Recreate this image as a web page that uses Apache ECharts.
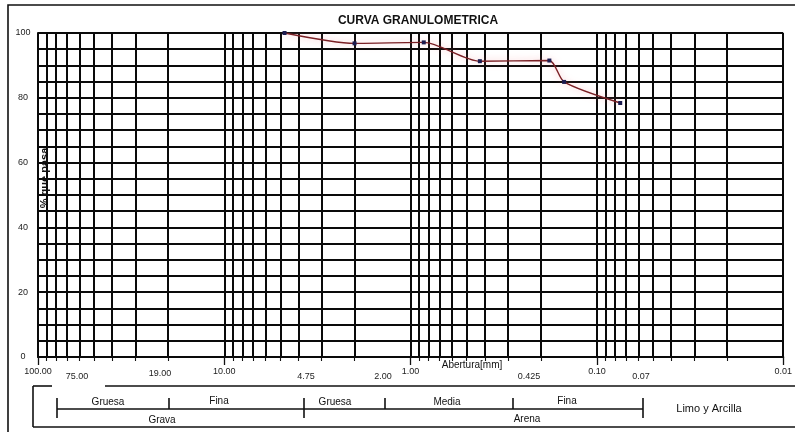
<!DOCTYPE html>
<html>
<head>
<meta charset="utf-8">
<script src="https://cdn.jsdelivr.net/npm/echarts@6/dist/echarts.min.js"></script>
<style>
  html, body { margin: 0; padding: 0; background: #fff; }
  #chart { width: 795px; height: 432px; }
</style>
</head>
<body>
<div id="chart"></div>
<script>
// Sieve openings (mm) and cumulative percent passing
const sieveSizes = [4.75, 2.00, 0.85, 0.425, 0.18, 0.15, 0.075];
const percentPassing = [100, 96.8, 97.1, 91.3, 91.5, 84.9, 78.4];

// Extra opening labels written along the size axis
const sieveLabels = ['75.00', '19.00', '4.75', '2.00', '0.425', '0.07'];

// Soil classification band under the chart
const fractionNames = ['Gruesa', 'Fina', 'Gruesa', 'Media', 'Fina'];
const groupNames = ['Grava', 'Arena'];
const fineName = 'Limo y Arcilla';

const titleText = 'CURVA GRANULOMETRICA';
const xAxisTitle = 'Abertura[mm]';
const yAxisTitle = '% que pasa';

// ---- layout (pixels) ----
const FONT = 'Liberation Sans, Arial, sans-serif';
const sieveLabelPos = [[77, 377], [160, 374], [306, 377], [383, 377], [529, 377], [641, 377]];
const fractionPos = [[108, 402], [219, 401], [335, 402], [447, 402], [567, 401]];
const groupPos = [[162, 420], [527, 419]];
const band = { left: 33, top: 386, bottom: 427, right: 800, gapFrom: 52, gapTo: 105, lineY: 409 };
const bandTicks = [[57, true], [169, false], [304, true], [385, false], [513, false], [643, true]];

const chart = echarts.init(document.getElementById('chart'), null, { renderer: 'canvas' });

const graphics = [];
// outer frame
graphics.push({ type: 'rect', shape: { x: 8, y: 5, width: 800, height: 440 },
  style: { fill: 'none', stroke: '#111', lineWidth: 1.6 }, silent: true, z: 0 });
// title
graphics.push({ type: 'text', style: { text: titleText, x: 418, y: 21, textAlign: 'center',
  textVerticalAlign: 'middle', font: 'bold 12px ' + FONT, fill: '#111' } });
// y axis title, rotated over the grid
graphics.push({ type: 'text', x: 45, y: 178, rotation: Math.PI / 2,
  style: { text: yAxisTitle, x: 0, y: 0, textAlign: 'center', textVerticalAlign: 'middle',
    font: 'bold 11px ' + FONT, fill: '#111' }, z: 10 });
// x axis title
graphics.push({ type: 'text', style: { text: xAxisTitle, x: 472, y: 365, textAlign: 'center',
  textVerticalAlign: 'middle', font: '10px ' + FONT, fill: '#111' }, z: 10 });
// opening labels
sieveLabels.forEach((t, i) => {
  graphics.push({ type: 'text', style: { text: t, x: sieveLabelPos[i][0], y: sieveLabelPos[i][1],
    textAlign: 'center', textVerticalAlign: 'middle', font: '9px ' + FONT, fill: '#222' } });
});
// classification band frame
const bandLines = [
  [band.left, band.top, band.left, band.bottom],
  [band.left, band.bottom, band.right, band.bottom],
  [band.left, band.top, band.gapFrom, band.top],
  [band.gapTo, band.top, band.right, band.top],
  [bandTicks[0][0], band.lineY, bandTicks[bandTicks.length - 1][0], band.lineY]
];
bandTicks.forEach(([x, tall]) => {
  bandLines.push([x, 398, x, tall ? 418 : band.lineY]);
});
bandLines.forEach(l => {
  graphics.push({ type: 'line', shape: { x1: l[0], y1: l[1], x2: l[2], y2: l[3] },
    style: { stroke: '#111', lineWidth: 1.6 }, silent: true });
});
fractionNames.forEach((t, i) => {
  graphics.push({ type: 'text', style: { text: t, x: fractionPos[i][0], y: fractionPos[i][1],
    textAlign: 'center', textVerticalAlign: 'middle', font: '10px ' + FONT, fill: '#111' } });
});
groupNames.forEach((t, i) => {
  graphics.push({ type: 'text', style: { text: t, x: groupPos[i][0], y: groupPos[i][1],
    textAlign: 'center', textVerticalAlign: 'middle', font: '10px ' + FONT, fill: '#111' } });
});
graphics.push({ type: 'text', style: { text: fineName, x: 709, y: 409, textAlign: 'center',
  textVerticalAlign: 'middle', font: '11px ' + FONT, fill: '#111' } });

const gridLine = { color: '#0a0a0a', width: 2 };

chart.setOption({
  animation: false,
  backgroundColor: '#fff',
  grid: { left: 38, right: 7, top: 33, bottom: 75, containLabel: false },
  xAxis: {
    type: 'log', logBase: 10, min: 0.01, max: 100, inverse: true,
    axisLine: { show: true, onZero: false, lineStyle: gridLine },
    axisTick: { show: true, length: 8, lineStyle: { color: '#111', width: 1.3 } },
    minorTick: { show: true, splitNumber: 9, length: 4, lineStyle: { color: '#111', width: 1.1 } },
    splitLine: { show: true, lineStyle: gridLine },
    minorSplitLine: { show: true, lineStyle: gridLine },
    axisLabel: {
      formatter: v => Number(v).toFixed(2), fontSize: 9, color: '#222', margin: 10,
      fontFamily: FONT, showMinLabel: true, showMaxLabel: true
    }
  },
  yAxis: {
    type: 'value', min: 0, max: 100, interval: 5,
    axisLine: { show: true, lineStyle: gridLine },
    axisTick: { show: false },
    splitLine: { show: true, lineStyle: gridLine },
    axisLabel: {
      formatter: v => (v % 20 === 0 ? String(v) : ''), fontSize: 9, color: '#222',
      margin: 15, align: 'center', fontFamily: FONT
    }
  },
  series: [{
    type: 'line',
    data: sieveSizes.map((s, i) => [s, percentPassing[i]]),
    smooth: 0.25,
    symbol: 'rect', symbolSize: 4,
    lineStyle: { color: '#7a1f24', width: 1.4, shadowColor: 'rgba(245,120,130,0.6)', shadowBlur: 7 },
    itemStyle: { color: '#1c1c50' },
    z: 5
  }],
  graphic: graphics
});
</script>
</body>
</html>
